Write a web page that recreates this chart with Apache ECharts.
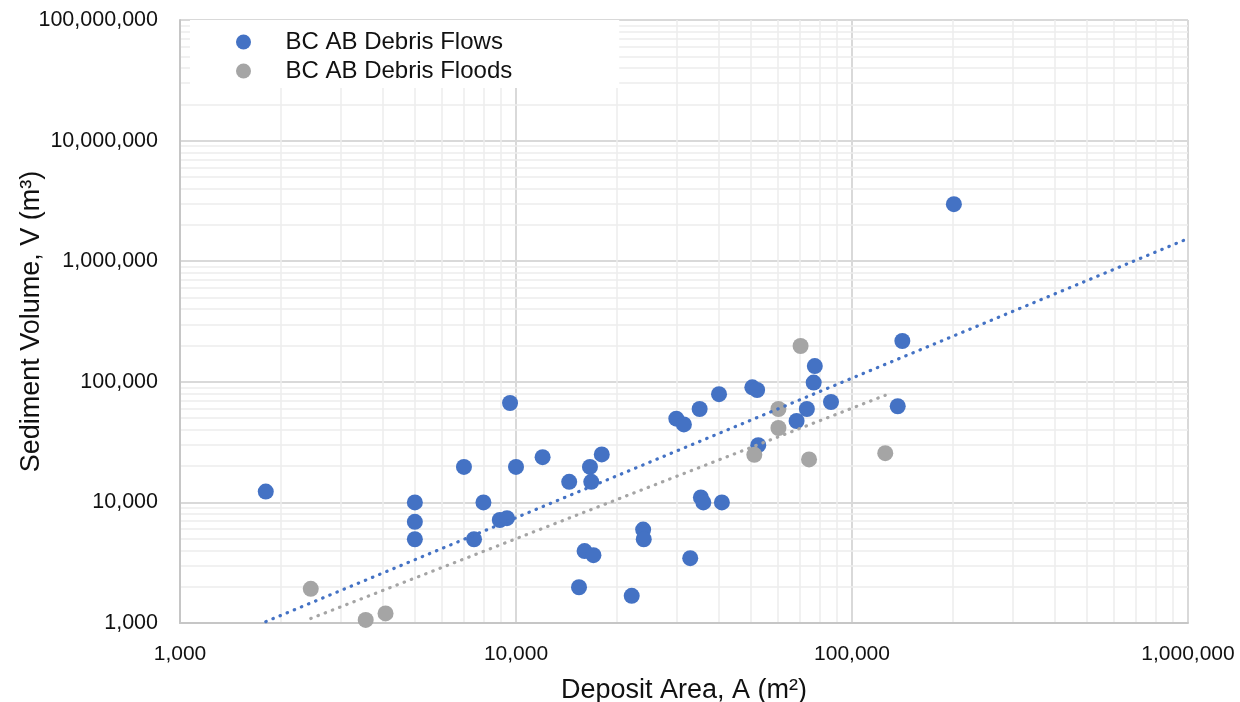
<!DOCTYPE html>
<html>
<head>
<meta charset="utf-8">
<script src="https://cdn.jsdelivr.net/npm/echarts@6/dist/echarts.min.js"></script>
<style>
html,body{margin:0;padding:0;background:#fff;}
#chart{width:1240px;height:702px;}
</style>
</head>
<body>
<div id="chart"></div>
<script>
// ---- Data ----
const flowsName = 'BC AB Debris Flows';
const floodsName = 'BC AB Debris Floods';

const flowsArea = [1800, 5000, 5000, 5000, 7000, 7500, 8000, 8950, 9400, 9600,
  10000, 12000, 14400, 15400, 16000, 16600, 16750, 17000, 18000, 22100,
  23900, 24000, 30000, 31600, 33000, 35200, 35500, 36100, 40200, 41000,
  50500, 52200, 52600, 68400, 73400, 76900, 77500, 86600, 136800, 141200, 201000];
const flowsVolume = [12300, 10000, 6900, 4950, 19700, 4950, 10000, 7150, 7400, 66700,
  19700, 23700, 14800, 1980, 3950, 19700, 14800, 3650, 25000, 1680,
  5950, 4950, 49500, 44300, 3450, 59500, 11000, 10000, 79000, 10000,
  90000, 85500, 29800, 47300, 59500, 98500, 135000, 68000, 62700, 218000, 2970000];

const floodsArea = [2450, 3570, 4090, 51200, 60400, 60400, 70300, 74500, 125600];
const floodsVolume = [1920, 1060, 1200, 24800, 59500, 41400, 198000, 22700, 25600];

// Power trendlines (end points)
const flowsTrendArea = [1800, 1000000];
const flowsTrendVolume = [1026, 1540000];
const floodsTrendArea = [2450, 125600];
const floodsTrendVolume = [1090, 77300];

const xRange = [1000, 1000000];
const yRange = [1000, 100000000];

const FONT = '"Liberation Sans", Arial, sans-serif';
const BLUE = '#4472C4';
const GRAY = '#A5A5A5';

// ---- helpers ----
function pairs(xs, ys) { return xs.map((x, i) => [x, ys[i]]); }
function minorValues(lo, hi) {
  const out = [];
  for (let d = lo; d < hi; d *= 10) for (let k = 2; k <= 9; k++) out.push(d * k);
  return out;
}
const fmt = v => Math.round(v).toLocaleString('en-US');

const minorLines = minorValues(xRange[0], xRange[1]).map(v => ({ xAxis: v }))
  .concat(minorValues(yRange[0], yRange[1]).map(v => ({ yAxis: v })));

const chart = echarts.init(document.getElementById('chart'), null, { renderer: 'canvas' });
chart.setOption({
  animation: false,
  backgroundColor: '#fff',
  textStyle: { fontFamily: FONT },
  grid: { left: 180, right: 52, top: 20, bottom: 79, containLabel: false, outerBoundsMode: 'none' },
  legend: {
    orient: 'vertical', left: 190, top: 20, z: 10,
    padding: [10, 107, 5, 46],
    itemWidth: 74, itemHeight: 15, itemGap: 5,
    backgroundColor: '#fff',
    textStyle: { fontSize: 24, color: '#111', fontFamily: FONT },
    data: [flowsName, floodsName]
  },
  xAxis: {
    type: 'log', logBase: 10, min: xRange[0], max: xRange[1],
    name: 'Deposit Area, A (m²)', nameLocation: 'middle', nameGap: 54, nameMoveOverlap: false,
    nameTextStyle: { fontSize: 27, color: '#111', fontFamily: FONT },
    axisLine: { show: true, lineStyle: { color: '#c6c6c6', width: 2 } },
    axisTick: { show: false },
    axisLabel: { fontSize: 21, color: '#111', margin: 21, formatter: fmt, fontFamily: FONT },
    splitLine: { show: true, lineStyle: { color: '#d9d9d9', width: 2 } }
  },
  yAxis: {
    type: 'log', logBase: 10, min: yRange[0], max: yRange[1],
    name: 'Sediment Volume, V (m³)', nameLocation: 'middle', nameGap: 135, nameMoveOverlap: false,
    nameTextStyle: { fontSize: 27, color: '#111', fontFamily: FONT },
    axisLine: { show: true, lineStyle: { color: '#c6c6c6', width: 2 } },
    axisTick: { show: false },
    axisLabel: { fontSize: 21.5, color: '#111', margin: 22, formatter: fmt, fontFamily: FONT },
    splitLine: { show: true, lineStyle: { color: '#d9d9d9', width: 2 } }
  },
  series: [
    {
      name: 'minor-grid', type: 'line', data: [], z: 0, silent: true,
      markLine: {
        z: 0, silent: true, symbol: ['none', 'none'], label: { show: false },
        lineStyle: { color: '#ededed', width: 1.5, type: 'solid' },
        emphasis: { disabled: true },
        animation: false,
        data: minorLines
      }
    },
    {
      name: flowsName, type: 'scatter', symbol: 'circle', symbolSize: 16, z: 3,
      itemStyle: { color: BLUE, opacity: 1 },
      data: pairs(flowsArea, flowsVolume)
    },
    {
      name: floodsName, type: 'scatter', symbol: 'circle', symbolSize: 16, z: 3,
      itemStyle: { color: GRAY, opacity: 1 },
      data: pairs(floodsArea, floodsVolume)
    },
    {
      name: 'flows-trend', type: 'line', z: 4, silent: true, symbol: 'none', showSymbol: false,
      lineStyle: { color: BLUE, width: 3.2, type: [0.5, 7.2], cap: 'round' },
      data: pairs(flowsTrendArea, flowsTrendVolume)
    },
    {
      name: 'floods-trend', type: 'line', z: 4, silent: true, symbol: 'none', showSymbol: false,
      lineStyle: { color: GRAY, width: 3.2, type: [0.5, 7.2], cap: 'round' },
      data: pairs(floodsTrendArea, floodsTrendVolume)
    }
  ]
});
</script>
</body>
</html>
